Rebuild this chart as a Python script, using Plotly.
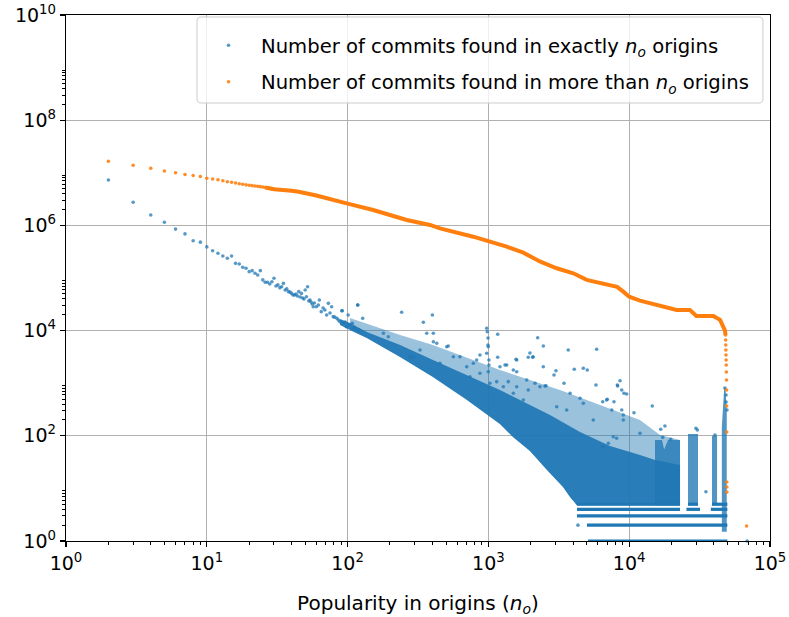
import plotly.graph_objects as go

# ---------------- data ----------------
# Blue: number of commits found in exactly n_o origins (sparse left tail, one value per n)
blue_tail_n = [2, 3, 4, 5, 6, 7, 8, 9, 10, 11, 12, 13, 14, 15, 16, 17, 18, 19, 20, 21, 22, 23, 24,
               25, 26, 27, 28, 29, 30, 31, 32, 33, 34, 35, 36, 37, 38, 39, 40, 41, 42, 43, 44, 45,
               46, 47, 48, 49, 50, 51, 52, 53, 54, 55, 56, 57, 58, 60, 62, 63, 65, 67, 69, 71, 73,
               75, 77, 79, 81, 84, 86, 88, 91, 93, 96, 98, 101, 103, 108, 112, 118, 120, 128]
blue_tail_count = [7.3e6, 2.75e6, 1.58e6, 1.15e6, 8.5e5, 6.9e5, 5.1e5, 4.8e5, 3.9e5, 3.3e5, 2.95e5,
                   2.62e5, 2.37e5, 2.62e5, 1.9e5, 1.85e5, 1.6e5, 1.53e5, 1.32e5, 1.38e5, 1.23e5,
                   1.14e5, 1.38e5, 9.2e4, 8.3e4, 8.3e4, 7.7e4, 8.5e4, 9.9e4, 7.05e4, 7.4e4, 6.5e4,
                   6.8e4, 7.9e4, 5.9e4, 6.2e4, 5.5e4, 5.4e4, 5.1e4, 4.75e4, 4.75e4, 4.97e4, 4.55e4,
                   5.5e4, 4.35e4, 5.1e4, 4.17e4, 3.99e4, 5.9e4, 4.4e4, 6.8e4, 3.65e4, 3.82e4, 3.5e4,
                   3.2e4, 2.85e4, 3.35e4, 2.85e4, 3.07e4, 3.82e4, 2.29e4, 2.69e4, 2.47e4, 1.98e4,
                   3.3e4, 2.16e4, 2.85e4, 1.84e4, 1.8e4, 1.71e4, 1.59e4, 1.48e4, 2.39e4, 1.38e4,
                   1.45e4, 1.19e4, 1.98e4, 1.28e4, 1.38e4, 1.12e4, 3.07e4, 1.03e4, 1.71e4]

# Blue: scattered outliers above the dense cloud (read as log10 values)
blue_out_log_n = [2.384, 2.602, 2.538, 2.072, 1.962, 2.988, 2.992, 2.997, 2.997, 3.066, 3.350, 3.295,
                  3.317, 3.201, 3.082, 3.130, 2.704, 2.798, 2.562, 2.609, 2.609, 2.988, 2.999, 2.940,
                  2.893, 3.059, 3.201, 3.272, 3.177, 3.390, 2.715, 3.066, 3.196, 3.283, 3.141, 3.201,
                  2.999, 2.917, 2.751, 2.633, 3.567, 3.769, 3.390, 3.315, 3.480, 3.466, 3.610, 3.674,
                  3.702, 3.764, 3.409, 3.537, 3.118, 3.580, 3.651, 3.674, 3.366, 3.331, 3.840, 3.485,
                  3.556, 3.745, 3.812, 3.844, 3.892, 3.876, 3.916, 3.935, 3.947, 3.963, 3.982, 3.947,
                  3.958, 3.958, 4.034, 4.164, 4.077, 4.224, 4.254, 4.238, 4.295, 4.474, 4.484, 4.545,
                  4.609, 3.887, 3.911, 3.816, 3.852, 3.918, 3.402, 3.636, 4.837, 4.680, 4.688, 4.688,
                  4.694, 3.004, 3.004, 2.443, 2.254, 2.289, 2.467, 2.514, 2.656, 2.846, 2.869, 2.940,
                  3.011, 3.106, 3.177, 3.248, 3.283]
blue_out_log_count = [4.348, 4.297, 4.158, 4.487, 4.378, 4.044, 3.979, 3.859, 3.726, 3.930, 3.865, 3.574,
                      3.504, 3.441, 3.314, 3.346, 3.694, 3.504, 3.949, 3.949, 3.789, 3.568, 3.694, 3.536,
                      3.378, 3.029, 2.933, 3.061, 3.251, 3.314, 3.707, 3.492, 3.454, 3.492, 3.029, 3.219,
                      3.219, 3.441, 3.504, 3.759, 3.631, 3.645, 3.707, 3.492, 3.238, 3.156, 3.264, 3.283,
                      3.251, 2.966, 2.952, 2.998, 3.346, 2.808, 2.713, 2.618, 2.933, 2.998, 2.681, 2.553,
                      2.490, 2.300, 2.648, 2.694, 2.648, 2.490, 2.966, 3.048, 2.871, 2.808, 2.795, 2.490,
                      2.395, 2.300, 2.439, 2.567, 2.048, 2.124, 2.186, 1.971, 1.933, 2.143, 2.110, 0.937,
                      2.015, 1.983, 1.952, 1.793, 1.857, 2.947, 2.947, 0.301, 0.0, 2.909, 2.776, 2.643,
                      2.490, 3.441, 3.346, 3.504, 3.949, 3.884, 3.504, 3.631, 3.378, 3.314, 3.124, 3.188,
                      2.998, 2.933, 2.808, 2.681, 2.871]

# Blue: outline of the dense core of the cloud
core_n = [88.3, 104, 137, 236, 404, 705, 1208, 1974, 2739, 4474, 7310, 11930, 15250, 22960, 22960,
          6206, 4258, 3800, 3388, 2608, 1974, 1496, 1208, 705, 404, 236, 137, 104, 88.3]
core_count = [16600, 13900, 9400, 5325, 2760, 1432, 743, 385, 249, 118, 64, 43.2, 34.7, 27.9, 4.8,
              4.8, 4.8, 6.9, 10.6, 22.4, 51.4, 94.9, 168, 480, 1312, 3148, 7230, 10270, 12770]

# Blue: outline of the lighter, sparser halo above the core
halo_n = [104, 236, 404, 705, 1208, 1974, 3226, 6206, 11930, 16550, 22960, 22960, 6206, 4258, 3800,
          3388, 2608, 1974, 1496, 1208, 705, 404, 236, 137, 104]
halo_count = [17370, 8250, 5325, 3015, 1783, 1151, 743, 385, 200, 104, 83, 4.8, 4.8, 4.8, 6.9, 10.6,
              22.4, 51.4, 94.9, 168, 480, 1312, 3148, 7230, 10270]

# Blue: vertical stripes near the right end (None separates stripes)
stripe_n = [15250, 17100, 17700, 18870, 22960, 22960, 15250, 15250, None,
            26170, 30810, 30810, 26170, 26170, None,
            38730, 42070, 42070, 38730, 38730, None,
            45500, 49300, 49300, 48300, 47300, 45500, 45500]
stripe_count = [83, 83, 55, 83, 83, 4.8, 4.8, 83, None,
                4.8, 4.8, 108, 108, 4.8, None,
                4.8, 4.8, 100, 100, 4.8, None,
                1.5, 1.5, 300, 811, 811, 150, 1.5]

# Blue: horizontal rows of small integer counts (start, end of each row segment)
band_n = [4258, 22960, None, 26170, 30810, None, 38730, 49800, None,
          4258, 22960, None, 25500, 31840, None, 38000, 49800, None,
          4258, 49800, None,
          5010, 49800, None,
          5100, 49800]
band_count = [5, 5, None, 5, 5, None, 5, 5, None,
              4, 4, None, 4, 4, None, 4, 4, None,
              3, 3, None,
              2, 2, None,
              1, 1]

# Orange: number of commits found in more than n_o origins
orange_pts_n = [2, 3, 4, 5, 6, 7, 8, 9, 10, 11, 12, 13, 14, 15, 16, 17, 18, 19, 20, 21, 22, 23, 24, 25,
                26, 27, 28, 29, 30,
                48300, 48400, 48500, 48600, 48700, 48800, 48900, 49000, 49100, 49150, 49200, 49250,
                49300, 49350, 49400, 68200]
orange_pts_count = [1.66e7, 1.39e7, 1.22e7, 1.08e7, 1.0e7, 9.3e6, 8.9e6, 8.5e6, 7.9e6, 7.62e6, 7.39e6,
                    7.08e6, 6.78e6, 6.6e6, 6.4e6, 6.2e6, 6.04e6, 5.9e6, 5.78e6, 5.7e6, 5.6e6, 5.52e6,
                    5.45e6, 5.38e6, 5.26e6, 5.2e6, 5.1e6, 5.0e6, 4.88e6,
                    8250, 6630, 5325, 4277, 3436, 2760, 2218, 1633, 1151, 743, 369, 118, 13.2, 10.6,
                    8.5, 1.93]
orange_curve_n = [26, 30, 40, 45, 60, 78, 88, 100, 152, 263, 385, 453, 780, 1000, 1349, 1770, 2340,
                  3055, 4010, 4990, 6206, 8200, 9080, 10000, 11930, 15700, 20570, 21700, 27000, 30000,
                  39600, 44200, 47900, 48300]
orange_curve_count = [5.26e6, 4.88e6, 4.55e6, 4.37e6, 3.7e6, 3.04e6, 2.8e6, 2.6e6, 1.96e6, 1.27e6,
                      1.02e6, 8.8e5, 6.1e5, 5.1e5, 3.94e5, 3.03e5, 2.04e5, 1.53e5, 1.23e5, 9.2e4, 7.9e4,
                      6.8e4, 5.5e4, 4.4e4, 3.7e4, 3.1e4, 2.54e4, 2.46e4, 2.46e4, 1.9e4, 1.9e4, 1.6e4,
                      1.0e4, 8250]

x_major = [1, 10, 100, 1000, 10000, 100000]
x_major_text = ["10<sup>0</sup>", "10<sup>1</sup>", "10<sup>2</sup>", "10<sup>3</sup>",
                "10<sup>4</sup>", "10<sup>5</sup>"]
y_major = [1, 1e2, 1e4, 1e6, 1e8, 1e10]
y_major_text = ["10<sup>0</sup>", "10<sup>2</sup>", "10<sup>4</sup>", "10<sup>6</sup>",
                "10<sup>8</sup>", "10<sup>10</sup>"]
x_minor = [s * 10 ** k for k in range(0, 5) for s in range(2, 10)]
y_minor = [s * 10 ** k for k in range(0, 10, 2) for s in range(2, 10)]

# ---------------- figure ----------------
BLUE = "#1f77b4"
ORANGE = "#ff7f0e"
FONT = "DejaVu Sans"

fig = go.Figure()
fig.add_trace(go.Scatter(x=halo_n, y=halo_count, mode="lines", fill="toself",
                         fillcolor="rgba(31,119,180,0.45)", line=dict(width=0),
                         showlegend=False, hoverinfo="skip"))
fig.add_trace(go.Scatter(x=core_n, y=core_count, mode="lines", fill="toself",
                         fillcolor="rgba(31,119,180,0.92)", line=dict(width=0),
                         showlegend=False, hoverinfo="skip"))
fig.add_trace(go.Scatter(x=stripe_n, y=stripe_count, mode="lines", fill="toself",
                         fillcolor="rgba(31,119,180,0.78)", line=dict(width=0),
                         showlegend=False, hoverinfo="skip"))
fig.add_trace(go.Scatter(x=band_n, y=band_count, mode="lines",
                         line=dict(color=BLUE, width=3.2),
                         showlegend=False, hoverinfo="skip"))
fig.add_trace(go.Scatter(x=blue_tail_n + [10 ** v for v in blue_out_log_n],
                         y=blue_tail_count + [10 ** v for v in blue_out_log_count],
                         mode="markers",
                         marker=dict(color=BLUE, size=3.6, opacity=0.75, line=dict(width=0)),
                         name="Number of commits found in exactly <i>n<sub>o</sub></i> origins",
                         legendgroup="a", cliponaxis=False))
fig.add_trace(go.Scatter(x=orange_curve_n, y=orange_curve_count, mode="lines",
                         line=dict(color=ORANGE, width=4), showlegend=False, hoverinfo="skip"))
fig.add_trace(go.Scatter(x=orange_pts_n, y=orange_pts_count, mode="markers",
                         marker=dict(color=ORANGE, size=3.6, opacity=0.9, line=dict(width=0)),
                         name="Number of commits found in more than <i>n<sub>o</sub></i> origins",
                         legendgroup="b"))

axis_common = dict(type="log", showline=True, linecolor="black", linewidth=1.2, mirror=True,
                   ticks="outside", ticklen=5, tickwidth=1.2, tickcolor="black",
                   showgrid=True, gridcolor="#b0b0b0", gridwidth=1, zeroline=False,
                   automargin=False, ticklabeloverflow="allow",
                   tickfont=dict(family=FONT, size=19, color="black"))

# legend frame (rounded box, paper coordinates)
bx0, bx1, by0, by1 = 0.1861, 0.990, 0.8327, 0.9962
rx, ry = 0.0057, 0.0076
legend_box = (f"M {bx0 + rx},{by1} L {bx1 - rx},{by1} Q {bx1},{by1} {bx1},{by1 - ry} "
              f"L {bx1},{by0 + ry} Q {bx1},{by0} {bx1 - rx},{by0} L {bx0 + rx},{by0} "
              f"Q {bx0},{by0} {bx0},{by0 + ry} L {bx0},{by1 - ry} Q {bx0},{by1} {bx0 + rx},{by1} Z")

fig.update_layout(
    width=789, height=617,
    margin=dict(l=66, r=19, t=15, b=76),
    paper_bgcolor="white", plot_bgcolor="white",
    font=dict(family=FONT, size=20, color="black"),
    xaxis=dict(range=[0, 5], tickvals=x_major, ticktext=x_major_text,
               minor=dict(tickvals=x_minor, ticks="outside", ticklen=3, tickcolor="black",
                          tickwidth=1, showgrid=False),
               title=dict(text="Popularity in origins (<i>n<sub>o</sub></i>)",
                          font=dict(family=FONT, size=20), standoff=23),
               **axis_common),
    yaxis=dict(range=[0, 10], tickvals=y_major, ticktext=y_major_text,
               minor=dict(tickvals=y_minor, ticks="outside", ticklen=3, tickcolor="black",
                          tickwidth=1, showgrid=False),
               **axis_common),
    shapes=[dict(type="path", xref="paper", yref="paper", path=legend_box,
                 fillcolor="rgba(255,255,255,0.8)", line=dict(color="#cccccc", width=1),
                 layer="above")],
    legend=dict(x=0.1847, y=0.979, xanchor="left", yanchor="top",
                bgcolor="rgba(0,0,0,0)", borderwidth=0,
                font=dict(family=FONT, size=19.6), tracegroupgap=8, itemwidth=55,
                traceorder="grouped"),
)

fig.write_html("out.html",
               config={"displayModeBar": False, "staticPlot": True},
               post_script="document.body.style.margin='0';document.body.style.overflow='hidden';")
